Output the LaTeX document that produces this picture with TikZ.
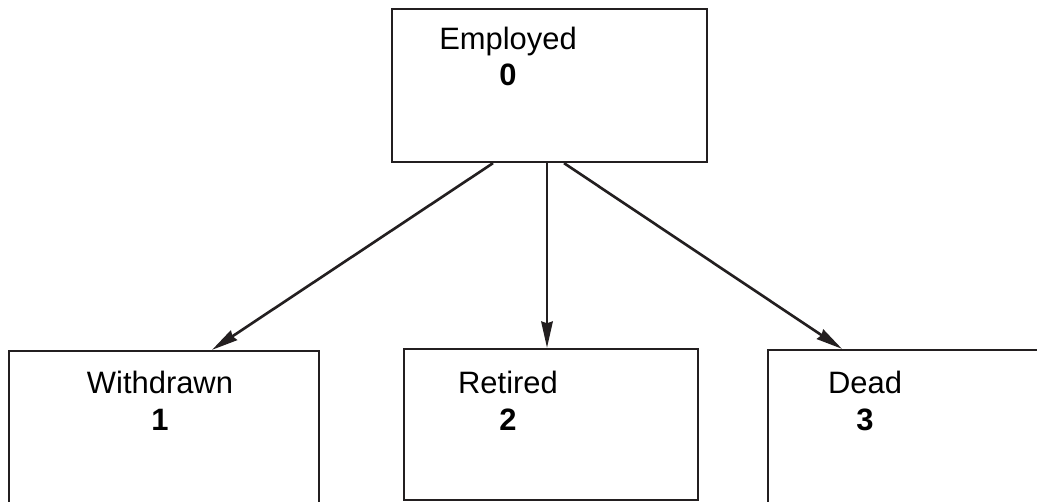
\documentclass[tikz,border=0pt]{standalone}
\usepackage{fontspec}
\setmainfont{Liberation Sans}
\usetikzlibrary{arrows.meta, positioning}
\definecolor{lineC}{RGB}{35,31,32}

\begin{document}
\begin{tikzpicture}[x=0.02cm, y=-0.02cm,
    box/.style={rectangle, draw=lineC, line width=1.3pt, fill=white, inner sep=0pt},
    lbl/.style={align=center, font=\fontsize{17.6}{21}\selectfont, inner sep=0pt},
    arr/.style={-{Stealth[length=15pt, width=6.5pt, inset=1pt]}, draw=lineC, line width=1.5pt}]
    \useasboundingbox (0,0) rectangle (1037,502);
    \node[box, minimum width=6.3cm, minimum height=3.06cm](emp) at (549.5,85.5) {};
    \node[box, minimum width=6.2cm, minimum height=3.38cm](wd) at (164,435.5) {};
    \node[box, minimum width=5.88cm, minimum height=3.02cm](ret) at (551,424.5) {};
    \node[box, minimum width=5.84cm, minimum height=3.4cm](dead) at (914,435) {};
    \node[lbl](empT) at (508,56.5) {Employed\\\textbf{0}};
    \node[lbl](wdT) at (160,401) {Withdrawn\\\textbf{1}};
    \node[lbl](retT) at (508,401) {Retired\\\textbf{2}};
    \node[lbl](deadT) at (865,401) {Dead\\\textbf{3}};
    \draw[arr]([xshift=-1.13cm]emp.south)--([xshift=0.96cm]wd.north);
    \draw[arr]([xshift=-0.05cm]emp.south)--([xshift=-0.05cm]emp.south |- ret.north);
    \draw[arr]([xshift=0.29cm]emp.south)--([xshift=-1.44cm]dead.north);
  \end{tikzpicture}
\end{document}
